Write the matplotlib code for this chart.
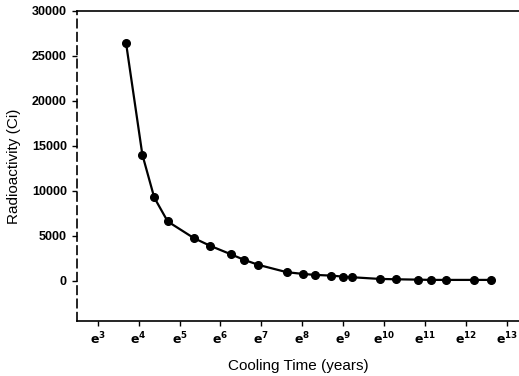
import matplotlib
matplotlib.use("Agg")
import matplotlib.pyplot as plt
import numpy as np

plt.rcParams['font.family'] = ['Liberation Sans', 'DejaVu Sans']

# cooling time as ln(years), radioactivity in Ci
ln_time = [3.69, 4.09, 4.38, 4.71, 5.35, 5.75, 6.25, 6.58, 6.93, 7.62,
           8.01, 8.30, 8.70, 8.99, 9.21, 9.89, 10.29, 10.82, 11.15, 11.52,
           12.20, 12.61]
activity = [26470, 14010, 9250, 6580, 4730, 3870, 2940, 2310, 1750, 940,
            750, 640, 560, 450, 380, 190, 150, 110, 80, 80,
            80, 80]

xtick_pos = list(range(3, 14))
xtick_labels = ["$\\mathbf{e^{%d}}$" % n for n in xtick_pos]
ytick_pos = [0, 5000, 10000, 15000, 20000, 25000, 30000]

fig = plt.figure(figsize=(5.19, 3.76), dpi=100)
ax = fig.add_axes([0.149, 0.147, 0.851, 0.824])

ax.plot(ln_time, activity, color="black", lw=1.6, marker="o",
        markersize=5.5, markerfacecolor="black", markeredgecolor="black")

ax.set_xlim(2.5, 13.3)
ax.set_ylim(-4460, 30000)
ax.set_xticks(xtick_pos)
ax.set_xticklabels(xtick_labels)
ax.set_yticks(ytick_pos)
ax.tick_params(axis="both", direction="out", length=3.5, width=1,
               labelsize=9, pad=4)
for lab in ax.get_yticklabels():
    lab.set_fontweight("bold")

ax.spines["left"].set_linestyle((0, (5, 3)))
ax.spines["right"].set_visible(False)
for s in ["left", "top", "bottom"]:
    ax.spines[s].set_linewidth(1.2)

ax.set_xlabel("Cooling Time (years)", fontsize=11, labelpad=8)
ax.set_ylabel("Radioactivity (Ci)", fontsize=11, labelpad=8)

fig.savefig("out.png", dpi=100)
